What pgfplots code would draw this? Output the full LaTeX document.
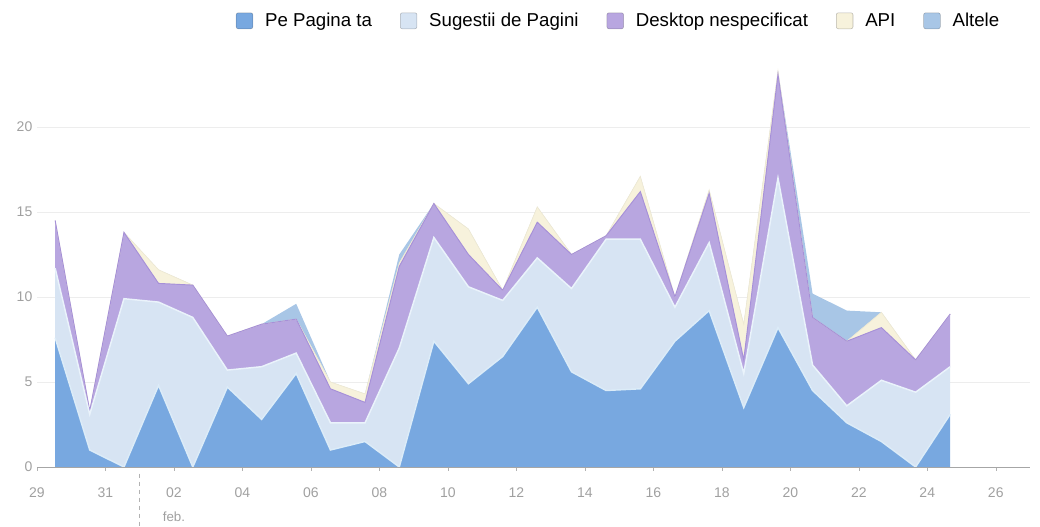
\documentclass[border=0pt]{standalone}
\usepackage{pgfplots}
\usepackage{pgfplotstable}
\pgfplotsset{compat=1.18}
\usepackage{fontspec}
\setmainfont{Liberation Sans}

\definecolor{cPe}{HTML}{78A8E0}
\definecolor{cPeL}{HTML}{DCECF8}
\definecolor{cSug}{HTML}{D7E4F3}
\definecolor{cSugL}{HTML}{EAF3FB}
\definecolor{cDesk}{HTML}{B8A6E0}
\definecolor{cDeskL}{HTML}{A690D8}
\definecolor{cApi}{HTML}{F7F2DC}
\definecolor{cAlt}{HTML}{A8C6E6}
\definecolor{cTick}{HTML}{A0A0A0}

\pgfplotstableread{
x     a    b    c    d    e
0.53  7.6  4.1  2.8  0    0
1.54  1.0  2.1  0.2  0    0
2.54  0    9.9  3.9  0    0
3.55  4.8  4.9  1.1  0.8  0
4.55  0    8.8  1.9  0    0
5.56  4.7  1.0  2.0  0    0
6.56  2.8  3.1  2.5  0    0
7.57  5.5  1.2  2.0  0    0.9
8.57  1.0  1.6  2.0  0.4  0
9.58  1.5  1.1  1.2  0.5  0
10.58 0    7.0  4.8  0.2  0.5
11.59 7.4  6.1  2.0  0    0
12.60 4.9  5.7  1.9  1.5  0
13.60 6.5  3.3  0.6  0    0
14.61 9.4  2.9  2.1  0.9  0
15.61 5.6  4.9  2.0  0    0
16.62 4.5  8.9  0.2  0    0
17.62 4.6  8.8  2.8  0.9  0
18.63 7.4  2.0  0.6  0    0
19.63 9.2  4.0  2.9  0.2  0
20.64 3.5  2.0  0.8  2.1  0
21.64 8.2  8.8  6.1  0.2  0
22.65 4.5  1.5  2.8  0    1.4
23.65 2.6  1.0  3.8  0    1.8
24.66 1.5  3.6  3.1  0.9  0
25.66 0    4.4  1.9  0    0
26.67 3.1  2.8  3.1  0    0
}\data

\begin{document}
\begin{tikzpicture}
\useasboundingbox (0,0) rectangle (780pt,395.25pt);
\pgfplotsset{base/.style={at={(27.75pt,45pt)}, anchor=south west, scale only axis,
  width=744.75pt, height=312.75pt, xmin=0, xmax=29, ymin=0, ymax=24.53}}
\begin{axis}[base, stack plots=y, clip=false,
  /pgf/number format/assume math mode=true,
  axis x line*=bottom, axis y line*=left,
  y axis line style={draw=none},
  x axis line style={draw=black!35, line width=0.6pt},
  xtick={0,2,...,28},
  xticklabels={29,31,02,04,06,08,10,12,14,16,18,20,22,24,26},
  ytick={0,5,10,15,20},
  ytick style={draw=none},
  xtick style={draw=black!30},
  tick align=outside, major tick length=3pt,
  ymajorgrids, grid style={draw=black!7, line width=0.6pt},
  tick label style={font=\fontsize{10.5}{12}\selectfont, text=cTick},
  xticklabel style={yshift=-9pt},
  yticklabel style={xshift=3pt},
  legend columns=-1,
  legend style={at={(axis description cs:0.972,1.07)}, anchor=east,
    draw=none, fill=none, inner sep=0pt,
    font=\fontsize{14}{16}\selectfont,
    /tikz/every odd column/.append style={column sep=7pt},
    /tikz/every even column/.append style={column sep=19pt}},
  legend image code/.code={\draw[#1, draw=black, draw opacity=0.25, rounded corners=1.5pt] (0pt,-6pt) rectangle (12.5pt,6pt);},
]
\addplot[fill=cPe, draw=none] table[x=x,y=a]{\data} \closedcycle;
\addplot[fill=cSug, draw=none] table[x=x,y=b]{\data} \closedcycle;
\addplot[fill=cDesk, draw=none] table[x=x,y=c]{\data} \closedcycle;
\addplot[fill=cApi, draw=none] table[x=x,y=d]{\data} \closedcycle;
\addplot[fill=cAlt, draw=none] table[x=x,y=e]{\data} \closedcycle;
\legend{Pe Pagina ta, Sugestii de Pagini, Desktop nespecificat, API, Altele}
\draw[dashed, black!30] ([yshift=-5pt]axis cs:3,0) -- ([yshift=-50pt]axis cs:3,0);
\node[font=\fontsize{10}{12}\selectfont, text=cTick] at ([yshift=-37pt]axis cs:4,0) {feb.};
\end{axis}
\begin{axis}[base, hide axis, stack plots=y]
\addplot[draw=cPeL, line width=1.1pt] table[x=x,y=a]{\data};
\addplot[draw=cSugL, line width=1.1pt] table[x=x,y=b]{\data};
\addplot[draw=cDeskL, line width=0.7pt] table[x=x,y=c]{\data};
\addplot[draw=cApi!80!black!20!cApi, line width=0.5pt] table[x=x,y=d]{\data};
\end{axis}
\end{tikzpicture}
\end{document}
